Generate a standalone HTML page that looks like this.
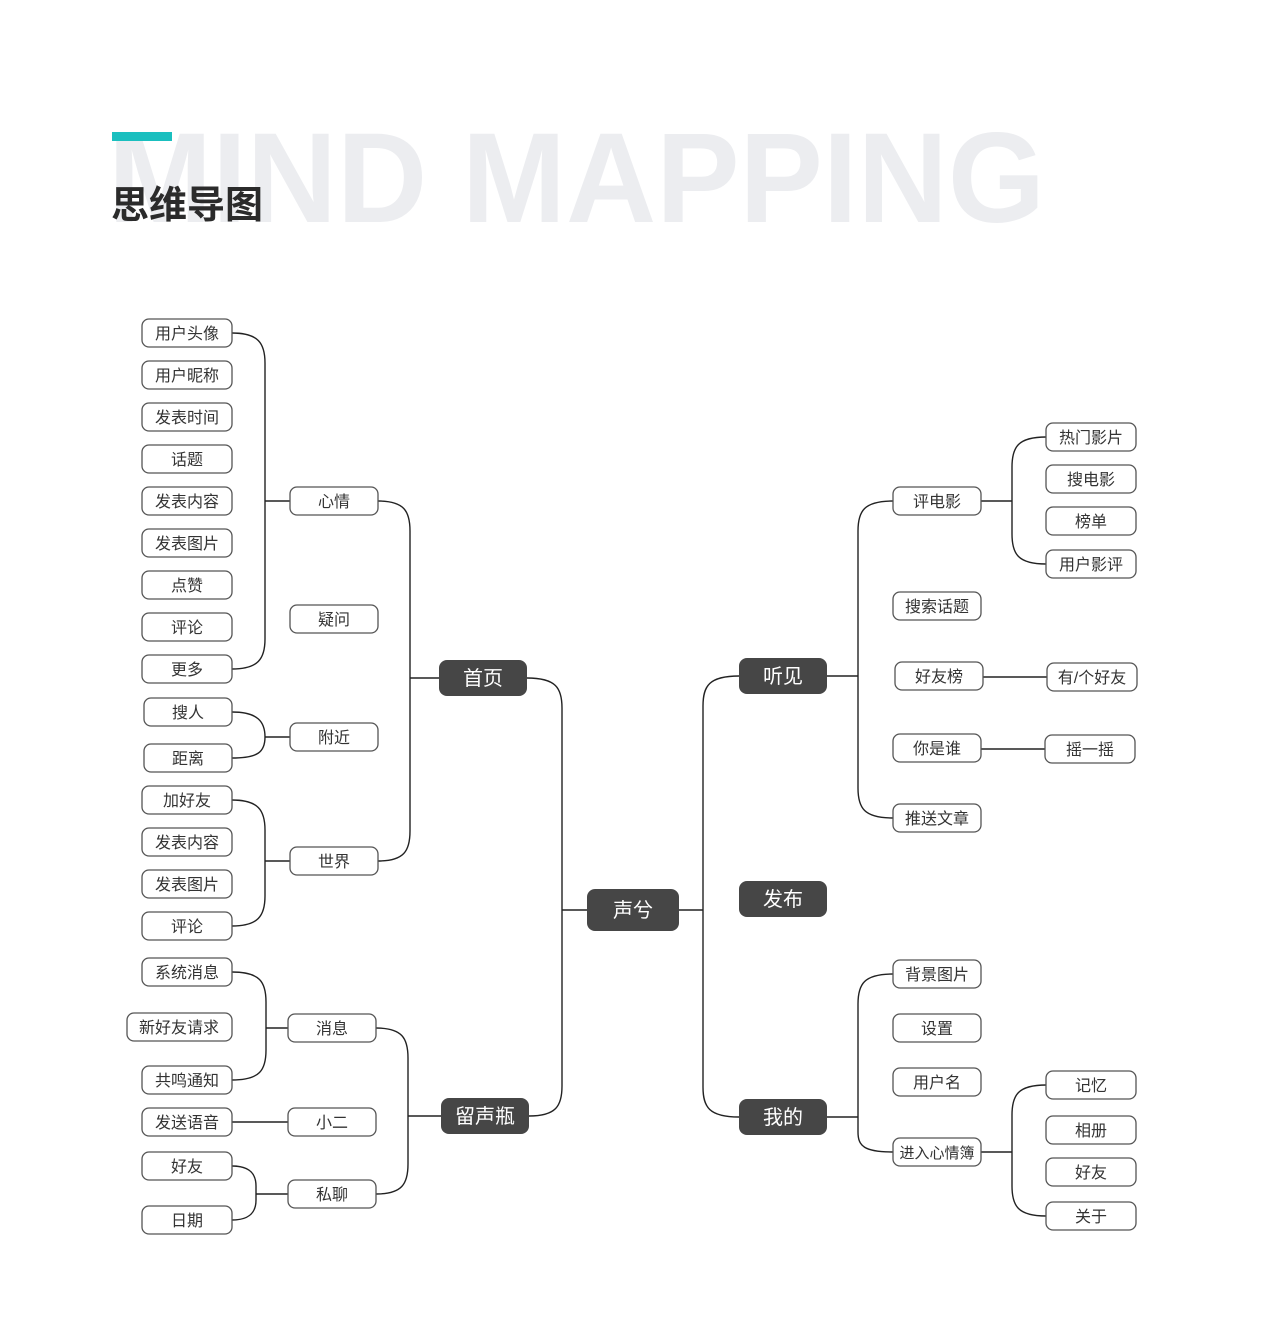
<!DOCTYPE html>
<html><head><meta charset="utf-8"><style>
html,body{margin:0;padding:0;background:#fff;}
svg text{font-family:"Liberation Sans","Noto Sans CJK SC",sans-serif;}
</style></head><body>
<svg width="1280" height="1318" viewBox="0 0 1280 1318" xmlns="http://www.w3.org/2000/svg">
<text x="108" y="222" font-size="128" font-weight="bold" fill="#ecedf0" textLength="937" lengthAdjust="spacingAndGlyphs">MIND MAPPING</text>
<rect x="112" y="132" width="60" height="9" fill="#1abfbf"/>
<text x="111" y="218" font-size="38" font-weight="bold" fill="#2b2b2b" style="font-family:'Noto Sans CJK SC',sans-serif">思维导图</text>

<g fill="none" stroke="#222" stroke-width="1.4">
<path d="M232,333 C258,333 265,343 265,363 V501"/>
<path d="M232,669 C258,669 265,659 265,639 V501 M265,501 H290"/>
<path d="M232,712 C258,712 265,722 265,737 C265,752 258,758 232,758 M265,737 H290"/>
<path d="M232,800 C258,800 265,810 265,830 V896 C265,916 258,926 232,926 M265,861 H290"/>
<path d="M378,501 C404,501 410,511 410,531 V831 C410,851 404,861 378,861 M410,678 H439"/>
<path d="M527,678 C556,678 562,688 562,708 V1086 C562,1106 556,1116 529,1116 M562,910 H587"/>
<path d="M376,1028 C402,1028 408,1038 408,1058 V1164 C408,1184 402,1194 376,1194 M408,1116 H441"/>
<path d="M232,972 C260,972 266,982 266,1002 V1050 C266,1070 260,1080 232,1080 M266,1028 H288"/>
<path d="M232,1122 H288"/>
<path d="M232,1166 C250,1166 256,1174 256,1186 V1200 C256,1212 250,1220 232,1220 M256,1194 H288"/>
<path d="M679,910 H703"/>
<path d="M739,676 C709,676 703,686 703,706 V1087 C703,1107 709,1117 739,1117"/>
<path d="M827,676 H858"/>
<path d="M893,501 C864,501 858,511 858,531 V788 C858,808 864,818 893,818"/>
<path d="M981,501 H1012"/>
<path d="M1046,437 C1018,437 1012,447 1012,467 V534 C1012,554 1018,564 1046,564"/>
<path d="M983,677 H1047 M981,749 H1045"/>
<path d="M827,1117 H858"/>
<path d="M893,974 C864,974 858,984 858,1004 V1132 C858,1146 864,1152 893,1152"/>
<path d="M981,1152 H1012"/>
<path d="M1046,1085 C1018,1085 1012,1095 1012,1115 V1186 C1012,1206 1018,1216 1046,1216"/>
</g>

<g fill="#fff" stroke="#555" stroke-width="1.3">
<rect x="142" y="319" width="90" height="28" rx="7"/>
<rect x="142" y="361" width="90" height="28" rx="7"/>
<rect x="142" y="403" width="90" height="28" rx="7"/>
<rect x="142" y="445" width="90" height="28" rx="7"/>
<rect x="142" y="487" width="90" height="28" rx="7"/>
<rect x="142" y="529" width="90" height="28" rx="7"/>
<rect x="142" y="571" width="90" height="28" rx="7"/>
<rect x="142" y="613" width="90" height="28" rx="7"/>
<rect x="142" y="655" width="90" height="28" rx="7"/>
<rect x="290" y="487" width="88" height="28" rx="7"/>
<rect x="290" y="605" width="88" height="28" rx="7"/>
<rect x="144" y="698" width="88" height="28" rx="7"/>
<rect x="144" y="744" width="88" height="28" rx="7"/>
<rect x="290" y="723" width="88" height="28" rx="7"/>
<rect x="142" y="786" width="90" height="28" rx="7"/>
<rect x="142" y="828" width="90" height="28" rx="7"/>
<rect x="142" y="870" width="90" height="28" rx="7"/>
<rect x="142" y="912" width="90" height="28" rx="7"/>
<rect x="290" y="847" width="88" height="28" rx="7"/>
<rect x="142" y="958" width="90" height="28" rx="7"/>
<rect x="127" y="1013" width="105" height="28" rx="7"/>
<rect x="142" y="1066" width="90" height="28" rx="7"/>
<rect x="288" y="1014" width="88" height="28" rx="7"/>
<rect x="142" y="1108" width="90" height="28" rx="7"/>
<rect x="288" y="1108" width="88" height="28" rx="7"/>
<rect x="142" y="1152" width="90" height="28" rx="7"/>
<rect x="142" y="1206" width="90" height="28" rx="7"/>
<rect x="288" y="1180" width="88" height="28" rx="7"/>
<rect x="893" y="487" width="88" height="28" rx="7"/>
<rect x="893" y="592" width="88" height="28" rx="7"/>
<rect x="895" y="662" width="88" height="28" rx="7"/>
<rect x="893" y="734" width="88" height="28" rx="7"/>
<rect x="893" y="804" width="88" height="28" rx="7"/>
<rect x="1046" y="423" width="90" height="28" rx="7"/>
<rect x="1046" y="465" width="90" height="28" rx="7"/>
<rect x="1046" y="507" width="90" height="28" rx="7"/>
<rect x="1046" y="550" width="90" height="28" rx="7"/>
<rect x="1047" y="663" width="90" height="28" rx="7"/>
<rect x="1045" y="735" width="90" height="28" rx="7"/>
<rect x="893" y="960" width="88" height="28" rx="7"/>
<rect x="893" y="1014" width="88" height="28" rx="7"/>
<rect x="893" y="1068" width="88" height="28" rx="7"/>
<rect x="893" y="1138" width="88" height="28" rx="7"/>
<rect x="1046" y="1071" width="90" height="28" rx="7"/>
<rect x="1046" y="1116" width="90" height="28" rx="7"/>
<rect x="1046" y="1158" width="90" height="28" rx="7"/>
<rect x="1046" y="1202" width="90" height="28" rx="7"/>
</g>

<g fill="#464646">
<rect x="439" y="660" width="88" height="36" rx="8"/>
<rect x="441" y="1098" width="88" height="36" rx="8"/>
<rect x="587" y="889" width="92" height="42" rx="8"/>
<rect x="739" y="658" width="88" height="36" rx="8"/>
<rect x="739" y="881" width="88" height="36" rx="8"/>
<rect x="739" y="1099" width="88" height="36" rx="8"/>
</g>
<g fill="#fff" font-size="20" text-anchor="middle">
<text x="483" y="685">首页</text>
<text x="485" y="1123">留声瓶</text>
<text x="633" y="917">声兮</text>
<text x="783" y="683">听见</text>
<text x="783" y="906">发布</text>
<text x="783" y="1124">我的</text>
</g>

<g fill="#333" font-size="16" text-anchor="middle">
<text x="187" y="339">用户头像</text>
<text x="187" y="381">用户昵称</text>
<text x="187" y="423">发表时间</text>
<text x="187" y="465">话题</text>
<text x="187" y="507">发表内容</text>
<text x="187" y="549">发表图片</text>
<text x="187" y="591">点赞</text>
<text x="187" y="633">评论</text>
<text x="187" y="675">更多</text>
<text x="334" y="507">心情</text>
<text x="334" y="625">疑问</text>
<text x="188" y="718">搜人</text>
<text x="188" y="764">距离</text>
<text x="334" y="743">附近</text>
<text x="187" y="806">加好友</text>
<text x="187" y="848">发表内容</text>
<text x="187" y="890">发表图片</text>
<text x="187" y="932">评论</text>
<text x="334" y="867">世界</text>
<text x="187" y="978">系统消息</text>
<text x="179" y="1033">新好友请求</text>
<text x="187" y="1086">共鸣通知</text>
<text x="332" y="1034">消息</text>
<text x="187" y="1128">发送语音</text>
<text x="332" y="1128">小二</text>
<text x="187" y="1172">好友</text>
<text x="187" y="1226">日期</text>
<text x="332" y="1200">私聊</text>
<text x="937" y="507">评电影</text>
<text x="937" y="612">搜索话题</text>
<text x="939" y="682">好友榜</text>
<text x="937" y="754">你是谁</text>
<text x="937" y="824">推送文章</text>
<text x="1091" y="443">热门影片</text>
<text x="1091" y="485">搜电影</text>
<text x="1091" y="527">榜单</text>
<text x="1091" y="570">用户影评</text>
<text x="1092" y="683">有/个好友</text>
<text x="1090" y="755">摇一摇</text>
<text x="937" y="980">背景图片</text>
<text x="937" y="1034">设置</text>
<text x="937" y="1088">用户名</text>
<text x="937" y="1158" font-size="15">进入心情簿</text>
<text x="1091" y="1091">记忆</text>
<text x="1091" y="1136">相册</text>
<text x="1091" y="1178">好友</text>
<text x="1091" y="1222">关于</text>
</g>
</svg>
</body></html>
